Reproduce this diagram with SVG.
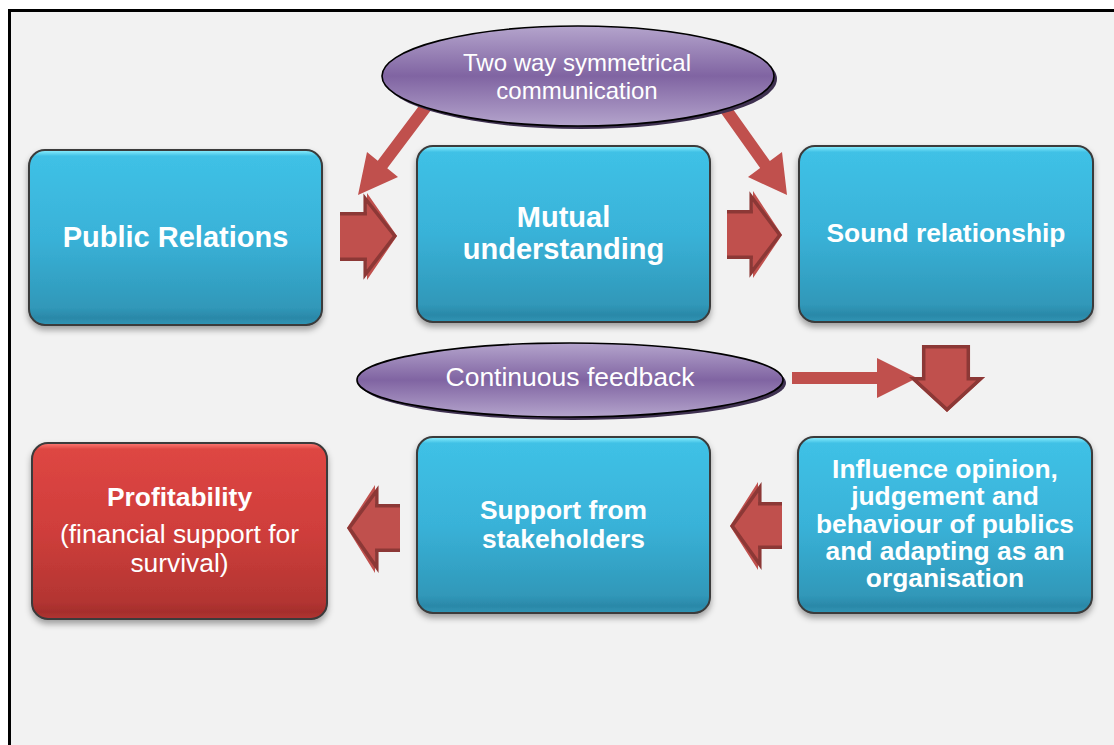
<svg xmlns="http://www.w3.org/2000/svg" width="1114" height="745" viewBox="0 0 1114 745">
<style>
.box{stroke:#3a3a3a;stroke-width:2}
.blue{fill:url(#gBlue)}
.red{fill:url(#gRed)}
.ell{fill:url(#gPurple);stroke:#000;stroke-width:1.6}
.ellsh{fill:#3f3151}
.t{font-family:"Liberation Sans",Arial,sans-serif;fill:#fff;text-anchor:middle}
.b{font-weight:bold}
.arrowFill{fill:#c0504d}
.arrowEdge{fill:none;stroke:#8c3836;stroke-width:3.5;stroke-linejoin:miter}
</style>
<defs>
<linearGradient id="gBlue" x1="0" y1="0" x2="0" y2="1">
<stop offset="0" stop-color="#8ff0ff"/>
<stop offset="0.035" stop-color="#3fc1e6"/>
<stop offset="0.5" stop-color="#39b2d8"/>
<stop offset="0.9" stop-color="#3098b9"/>
<stop offset="0.96" stop-color="#2b88a8"/>
<stop offset="1" stop-color="#3095b5"/>
</linearGradient>
<linearGradient id="gRed" x1="0" y1="0" x2="0" y2="1">
<stop offset="0" stop-color="#ff7a74"/>
<stop offset="0.035" stop-color="#de4643"/>
<stop offset="0.5" stop-color="#cf3e3b"/>
<stop offset="0.9" stop-color="#b33532"/>
<stop offset="0.96" stop-color="#a52e2c"/>
<stop offset="1" stop-color="#b13432"/>
</linearGradient>
<linearGradient id="gPurple" x1="0" y1="0" x2="0" y2="1">
<stop offset="0" stop-color="#b4a4cc"/>
<stop offset="0.5" stop-color="#8064a2"/>
<stop offset="1" stop-color="#b4a4cc"/>
</linearGradient>
<filter id="sh" x="-10%" y="-10%" width="120%" height="130%">
<feDropShadow dx="0" dy="4" stdDeviation="3" flood-color="#000" flood-opacity="0.35"/>
</filter>
</defs>

<rect x="0" y="0" width="1114" height="745" fill="#ffffff"/>
<rect x="9.5" y="10.5" width="1120" height="750" fill="#f2f2f2" stroke="#000" stroke-width="3"/>

<g id="connectors">
<polygon class="arrowFill" points="423.25,100.33 432.75,107.67 387.25,168.17 398,177 358,195 367,152 377.75,160.83"/>
<polygon class="arrowFill" points="717.13,107.5 726.87,100.5 769.87,161 782,152 787,195 748,177 760.13,168"/>
<polygon class="arrowFill" points="340,212 367,212 367,193 397,236 367,280 367,261 340,261"/>
<polyline class="arrowEdge" points="340,213.7 365.2,213.7 365.2,198.5 394.8,236 365.2,274.5 365.2,259.3 340,259.3"/>
<polygon class="arrowFill" points="727,210 753,210 753,191 782,235 753,278 753,259 727,259"/>
<polyline class="arrowEdge" points="727,211.7 751.2,211.7 751.2,196.5 779.8,235 751.2,272.5 751.2,257.3 727,257.3"/>
<polygon class="arrowFill" points="792,372 877,372 877,358 917,378 877,398 877,384 792,384"/>
<polygon class="arrowFill" points="922,345 970,345 970,377 985,377 947,412 909,377 922,377"/>
<polygon class="arrowEdge" points="923.7,346.7 968.3,346.7 968.3,378.7 980.6,378.7 947,409.6 913.4,378.7 923.7,378.7"/>
<polygon class="arrowFill" points="782,502 758,502 758,482 730,526 758,570 758,549 782,549"/>
<polyline class="arrowEdge" points="782,503.7 759.8,503.7 759.8,487.5 732.2,526 759.8,564.5 759.8,547.3 782,547.3"/>
<polygon class="arrowFill" points="400,504 375,504 375,485 347,528 375,573 375,552 400,552"/>
<polyline class="arrowEdge" points="400,505.7 376.8,505.7 376.8,490.5 349.2,528 376.8,567.5 376.8,550.3 400,550.3"/>
</g>

<g id="node-two-way">
<ellipse class="ellsh" cx="581" cy="79" rx="196" ry="50"/>
<ellipse class="ell" cx="578" cy="76" rx="196" ry="50"/>
<text class="t" x="577" y="71" font-size="24">Two way symmetrical</text>
<text class="t" x="577" y="99" font-size="24">communication</text>
</g>

<g id="node-public-relations">
<rect class="box blue" x="29" y="150" width="293" height="175" rx="16" filter="url(#sh)"/>
<text class="t b" x="175.5" y="247" font-size="29">Public Relations</text>
</g>

<g id="node-mutual">
<rect class="box blue" x="417" y="146" width="293" height="176" rx="16" filter="url(#sh)"/>
<text class="t b" x="563.5" y="227" font-size="29">Mutual</text>
<text class="t b" x="563.5" y="259" font-size="29">understanding</text>
</g>

<g id="node-sound">
<rect class="box blue" x="799" y="146" width="294" height="176" rx="16" filter="url(#sh)"/>
<text class="t b" x="946" y="242" font-size="26.4">Sound relationship</text>
</g>

<g id="node-feedback">
<ellipse class="ellsh" cx="573" cy="383" rx="213" ry="37"/>
<ellipse class="ell" cx="570" cy="380" rx="213" ry="37"/>
<text class="t" x="570" y="386" font-size="26.5">Continuous feedback</text>
</g>

<g id="node-influence">
<rect class="box blue" x="798" y="437" width="294" height="176" rx="16" filter="url(#sh)"/>
<text class="t b" x="945" y="478" font-size="26.4">Influence opinion,</text>
<text class="t b" x="945" y="505.3" font-size="26.4">judgement and</text>
<text class="t b" x="945" y="532.6" font-size="26.4">behaviour of publics</text>
<text class="t b" x="945" y="559.9" font-size="26.4">and adapting as an</text>
<text class="t b" x="945" y="587.2" font-size="26.4">organisation</text>
</g>

<g id="node-support">
<rect class="box blue" x="417" y="437" width="293" height="176" rx="16" filter="url(#sh)"/>
<text class="t b" x="563.5" y="519" font-size="26.4">Support from</text>
<text class="t b" x="563.5" y="547.5" font-size="26.4">stakeholders</text>
</g>

<g id="node-profitability">
<rect class="box red" x="32" y="443" width="295" height="176" rx="16" filter="url(#sh)"/>
<text class="t b" x="179.5" y="506" font-size="26.4">Profitability</text>
<text class="t" x="179.5" y="543" font-size="26.4">(financial support for</text>
<text class="t" x="179.5" y="572" font-size="26.4">survival)</text>
</g>
</svg>
